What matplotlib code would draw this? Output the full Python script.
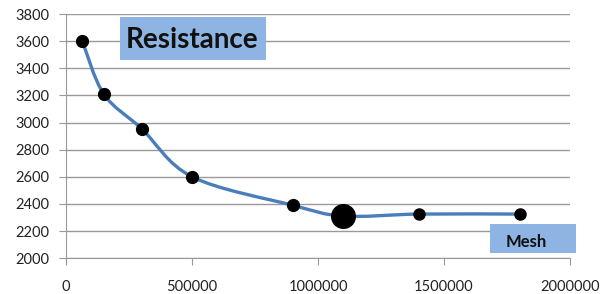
import matplotlib.pyplot as plt
import numpy as np
from matplotlib.path import Path
from matplotlib.patches import PathPatch, Rectangle

# mesh size vs resistance
mesh = [65000, 150000, 300000, 500000, 900000, 1100000, 1400000, 1800000]
resistance = [3600, 3210, 2955, 2600, 2390, 2310, 2325, 2325]
marker_size = [8.5, 8.5, 8.5, 8.5, 8.5, 17, 8, 8]

x_ticks = [0, 500000, 1000000, 1500000, 2000000]
y_ticks = list(range(2000, 3801, 200))

line_color = '#4A7EBB'
box_color = '#8DB4E2'

fig = plt.figure(figsize=(6, 2.94), dpi=100)
ax = fig.add_axes([0.11, 0.122, 0.84, 0.83])

# smoothed line (bezier through the points, like excel's smoothed line)
pts = np.column_stack([mesh, resistance]).astype(float)
verts = [pts[0]]
codes = [Path.MOVETO]
for i in range(len(pts) - 1):
    p0 = pts[i - 1] if i > 0 else pts[i]
    p1 = pts[i]
    p2 = pts[i + 1]
    p3 = pts[i + 2] if i + 2 < len(pts) else pts[i + 1]
    c1 = p1 + (p2 - p0) / 6.0
    c2 = p2 - (p3 - p1) / 6.0
    verts += [c1, c2, p2]
    codes += [Path.CURVE4] * 3
ax.add_patch(PathPatch(Path(verts, codes), facecolor='none', edgecolor=line_color,
                       linewidth=2.4, zorder=3, capstyle='round'))

for x, y, s in zip(mesh, resistance, marker_size):
    ax.plot(x, y, 'o', color='black', markersize=s, zorder=4)

ax.set_xlim(0, 2000000)
ax.set_ylim(2000, 3800)
ax.set_xticks(x_ticks)
ax.set_yticks(y_ticks)
ax.set_xticklabels([str(t) for t in x_ticks])
ax.grid(axis='y', color='#999999', linewidth=1)
ax.set_axisbelow(True)
for s in ['top', 'right']:
    ax.spines[s].set_visible(False)
for s in ['left', 'bottom']:
    ax.spines[s].set_color('#999999')
ax.tick_params(axis='x', length=5, color='#999999', pad=11, labelsize=10.5, labelcolor='#222222')
ax.tick_params(axis='y', length=5, color='#999999', pad=7, labelsize=10.5, labelcolor='#222222')
for lab in ax.get_xticklabels() + ax.get_yticklabels():
    lab.set_fontfamily('Lato')

# title box
fig.add_artist(Rectangle((120 / 600, 1 - 60 / 294), 146 / 600, 43 / 294,
                         transform=fig.transFigure, facecolor=box_color, edgecolor='none', zorder=5))
fig.text(192 / 600, 1 - 40 / 294, 'Resistance', ha='center', va='center', fontsize=20,
         fontweight='bold', family='Lato', color='#111111', zorder=6)

# axis label box
fig.add_artist(Rectangle((490 / 600, 1 - 253 / 294), 86 / 600, 29 / 294,
                         transform=fig.transFigure, facecolor=box_color, edgecolor='none', zorder=5))
fig.text(526 / 600, 1 - 242 / 294, 'Mesh', ha='center', va='center', fontsize=12,
         fontweight='bold', family='Lato', color='#111111', zorder=6)

fig.savefig('out.png', dpi=100)
